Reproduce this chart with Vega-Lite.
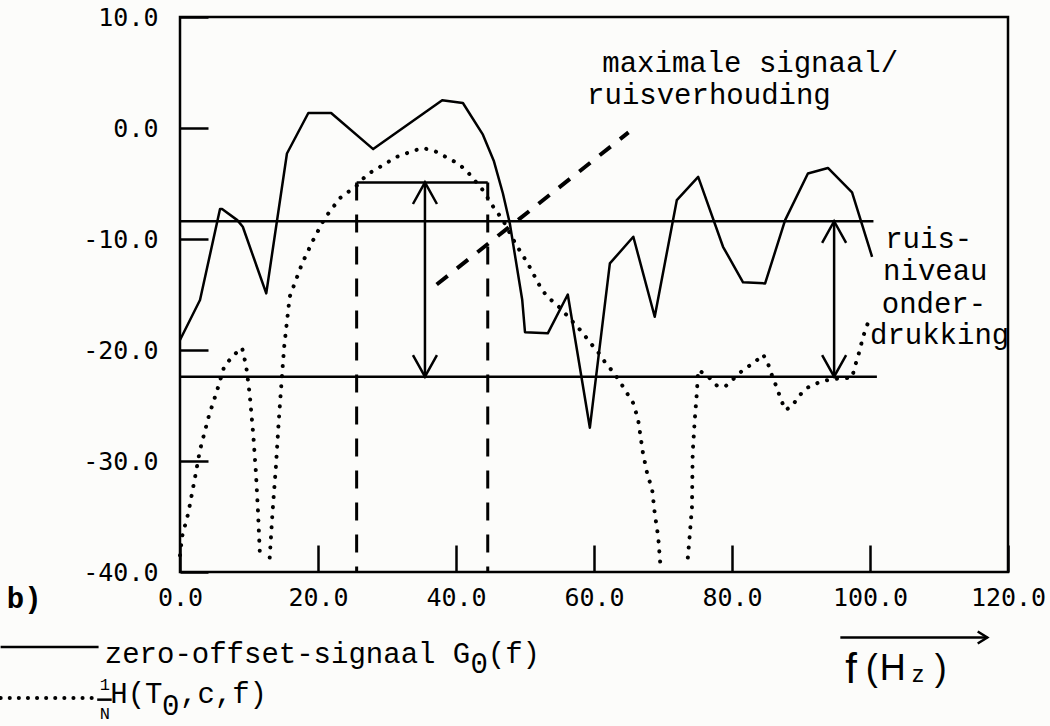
{
  "$schema": "https://vega.github.io/schema/vega-lite/v6.json",
  "width": 828,
  "height": 555,
  "autosize": {"type": "none"},
  "padding": {"left": 180, "top": 17, "right": 42, "bottom": 154},
  "background": "#fcfcfa",
  "config": {
    "view": {"stroke": "black", "strokeWidth": 2.5},
    "text": {"font": "Liberation Mono", "fontSize": 29, "color": "black", "align": "left", "baseline": "alphabetic"}
  },
  "datasets": {
    "G": [
      {"x": 0, "y": -19.1}, {"x": 2.9, "y": -15.5}, {"x": 5.8, "y": -7.3}, {"x": 6.1, "y": -7.3},
      {"x": 8.3, "y": -8.3}, {"x": 9.1, "y": -8.9}, {"x": 12.5, "y": -14.9}, {"x": 15.5, "y": -2.3},
      {"x": 18.6, "y": 1.35}, {"x": 21.9, "y": 1.35}, {"x": 28.0, "y": -1.9}, {"x": 38.0, "y": 2.5},
      {"x": 41.0, "y": 2.25}, {"x": 43.9, "y": -0.6}, {"x": 45.5, "y": -3.0}, {"x": 46.8, "y": -5.9},
      {"x": 47.8, "y": -8.6}, {"x": 49.6, "y": -15.5}, {"x": 50.0, "y": -18.4}, {"x": 53.3, "y": -18.5},
      {"x": 56.2, "y": -15.0}, {"x": 59.4, "y": -27.0}, {"x": 62.3, "y": -12.2}, {"x": 65.7, "y": -9.8},
      {"x": 68.8, "y": -17.0}, {"x": 72.0, "y": -6.5}, {"x": 75.1, "y": -4.4}, {"x": 78.7, "y": -10.7},
      {"x": 81.6, "y": -13.9}, {"x": 84.8, "y": -14.0}, {"x": 87.7, "y": -8.3}, {"x": 91.0, "y": -4.1},
      {"x": 93.9, "y": -3.6}, {"x": 97.4, "y": -5.8}, {"x": 100.3, "y": -11.6}
    ],
    "H": [
      {"seg": 1, "x": 0.0, "y": -38.5}, {"seg": 1, "x": 0.3, "y": -36.8}, {"seg": 1, "x": 1.2, "y": -34.7},
      {"seg": 1, "x": 2.2, "y": -31.4}, {"seg": 1, "x": 2.9, "y": -29.0}, {"seg": 1, "x": 4.2, "y": -25.9},
      {"seg": 1, "x": 5.4, "y": -23.6}, {"seg": 1, "x": 6.4, "y": -21.5}, {"seg": 1, "x": 7.7, "y": -20.5},
      {"seg": 1, "x": 9.0, "y": -19.8}, {"seg": 1, "x": 9.6, "y": -21.5}, {"seg": 1, "x": 10.1, "y": -24.0},
      {"seg": 1, "x": 10.6, "y": -27.5}, {"seg": 1, "x": 11.0, "y": -31.0}, {"seg": 1, "x": 11.3, "y": -34.5},
      {"seg": 1, "x": 11.6, "y": -38.7},
      {"seg": 2, "x": 13.0, "y": -38.7}, {"seg": 2, "x": 13.4, "y": -34.7}, {"seg": 2, "x": 13.9, "y": -30.5},
      {"seg": 2, "x": 14.3, "y": -26.5}, {"seg": 2, "x": 14.7, "y": -23.0}, {"seg": 2, "x": 15.1, "y": -19.7},
      {"seg": 2, "x": 15.9, "y": -15.2}, {"seg": 2, "x": 17.7, "y": -12.2}, {"seg": 2, "x": 19.3, "y": -10.1},
      {"seg": 2, "x": 21.0, "y": -8.1}, {"seg": 2, "x": 23.2, "y": -6.3}, {"seg": 2, "x": 25.6, "y": -5.2},
      {"seg": 2, "x": 27.1, "y": -4.2}, {"seg": 2, "x": 29.0, "y": -3.5}, {"seg": 2, "x": 31.4, "y": -2.6},
      {"seg": 2, "x": 33.6, "y": -2.1}, {"seg": 2, "x": 35.2, "y": -1.8}, {"seg": 2, "x": 37.0, "y": -2.1},
      {"seg": 2, "x": 38.8, "y": -2.7}, {"seg": 2, "x": 40.3, "y": -3.2}, {"seg": 2, "x": 41.6, "y": -3.9},
      {"seg": 2, "x": 43.9, "y": -5.6}, {"seg": 2, "x": 45.4, "y": -7.1}, {"seg": 2, "x": 46.8, "y": -8.3},
      {"seg": 2, "x": 48.6, "y": -10.4}, {"seg": 2, "x": 50.4, "y": -12.2}, {"seg": 2, "x": 52.2, "y": -14.3},
      {"seg": 2, "x": 53.2, "y": -15.2}, {"seg": 2, "x": 54.6, "y": -15.9}, {"seg": 2, "x": 55.8, "y": -16.7},
      {"seg": 2, "x": 58.3, "y": -18.4}, {"seg": 2, "x": 59.4, "y": -19.3}, {"seg": 2, "x": 60.6, "y": -20.2},
      {"seg": 2, "x": 61.6, "y": -21.1}, {"seg": 2, "x": 62.8, "y": -22.0}, {"seg": 2, "x": 63.8, "y": -22.9},
      {"seg": 2, "x": 64.8, "y": -23.9}, {"seg": 2, "x": 65.7, "y": -24.8}, {"seg": 2, "x": 66.4, "y": -26.3},
      {"seg": 2, "x": 67.1, "y": -29.3}, {"seg": 2, "x": 67.8, "y": -31.4}, {"seg": 2, "x": 68.4, "y": -32.4},
      {"seg": 2, "x": 68.8, "y": -34.7}, {"seg": 2, "x": 69.3, "y": -36.8}, {"seg": 2, "x": 69.6, "y": -39.2},
      {"seg": 3, "x": 73.6, "y": -38.7}, {"seg": 3, "x": 73.9, "y": -36.5}, {"seg": 3, "x": 74.2, "y": -34.1},
      {"seg": 3, "x": 74.3, "y": -29.3}, {"seg": 3, "x": 74.6, "y": -26.3}, {"seg": 3, "x": 74.9, "y": -23.9},
      {"seg": 3, "x": 75.1, "y": -21.8}, {"seg": 3, "x": 76.4, "y": -22.3}, {"seg": 3, "x": 77.8, "y": -23.2},
      {"seg": 3, "x": 79.0, "y": -23.3}, {"seg": 3, "x": 81.6, "y": -21.8}, {"seg": 3, "x": 83.3, "y": -21.1},
      {"seg": 3, "x": 84.5, "y": -20.4}, {"seg": 3, "x": 85.2, "y": -21.2}, {"seg": 3, "x": 85.8, "y": -22.3},
      {"seg": 3, "x": 86.5, "y": -23.4}, {"seg": 3, "x": 87.0, "y": -24.3}, {"seg": 3, "x": 87.7, "y": -25.4},
      {"seg": 3, "x": 88.7, "y": -25.1}, {"seg": 3, "x": 89.6, "y": -24.2}, {"seg": 3, "x": 90.9, "y": -23.4},
      {"seg": 3, "x": 93.0, "y": -22.8}, {"seg": 3, "x": 95.0, "y": -22.6}, {"seg": 3, "x": 97.4, "y": -22.5},
      {"seg": 3, "x": 97.8, "y": -21.5}, {"seg": 3, "x": 98.3, "y": -20.5}, {"seg": 3, "x": 98.8, "y": -19.3},
      {"seg": 3, "x": 99.3, "y": -18.2}, {"seg": 3, "x": 100.0, "y": -17.1}
    ],
    "hrules": [
      {"x": 0, "x2": 100.5, "y": -8.4},
      {"x": 0, "x2": 101.0, "y": -22.4},
      {"x": 25.6, "x2": 44.6, "y": -4.9},
      {"x": -26.0, "x2": -11.8, "y": -46.75},
      {"x": -12.0, "x2": -9.9, "y": -51.5},
      {"x": 95.7, "x2": 117.0, "y": -45.9}
    ],
    "vrules": [
      {"x": 35.5, "y": -4.9, "y2": -22.4},
      {"x": 94.8, "y": -8.4, "y2": -22.4}
    ],
    "dashedV": [
      {"x": 25.6, "y": -4.9, "y2": -40},
      {"x": 44.6, "y": -4.9, "y2": -40}
    ],
    "diag": [
      {"x": 37.2, "y": -14.1, "x2": 65.0, "y2": -0.4}
    ],
    "legdot": [
      {"x": -26.0, "x2": -12.4, "y": -51.35}
    ],
    "headUp": [{"x": 35.5, "y": -4.9}, {"x": 94.8, "y": -8.4}],
    "headDown": [{"x": 35.5, "y": -22.4}, {"x": 94.8, "y": -22.4}],
    "headRight": [{"x": 117.0, "y": -45.9}],
    "labels": [
      {"x": 61.2, "y": 5.05, "t": "maximale signaal/"},
      {"x": 59.0, "y": 2.2, "t": "ruisverhouding"},
      {"x": 102.2, "y": -10.8, "t": "ruis-"},
      {"x": 101.9, "y": -13.7, "t": "niveau"},
      {"x": 101.7, "y": -16.7, "t": "onder-"},
      {"x": 100.0, "y": -19.5, "t": "drukking"},
      {"x": -10.9, "y": -48.2, "t": "zero-offset-signaal G"},
      {"x": 42.1, "y": -49.1, "t": "0"},
      {"x": 44.6, "y": -48.2, "t": "(f)"},
      {"x": -10.1, "y": -51.8, "t": "H(T"},
      {"x": -2.6, "y": -52.9, "t": "0"},
      {"x": 0.0, "y": -51.8, "t": ",c,f)"}
    ],
    "frac": [
      {"x": -10.9, "y": -50.6, "t": "1"},
      {"x": -10.9, "y": -53.2, "t": "N"}
    ],
    "bold": [{"x": -25.1, "y": -43.2, "t": "b)"}],
    "hand": [
      {"x": 99.4, "y": -49.7, "t": "("},
      {"x": 101.4, "y": -49.7, "t": "H"},
      {"x": 109.4, "y": -49.7, "t": ")"}
    ],
    "handf": [{"x": 96.4, "y": -50.0, "t": "f"}],
    "handsub": [{"x": 106.1, "y": -49.9, "t": "z"}]
  },
  "encoding": {
    "x": {
      "field": "x", "type": "quantitative",
      "scale": {"domain": [0, 120], "nice": false, "zero": false},
      "axis": {
        "values": [0, 20, 40, 60, 80, 100, 120], "title": null, "domain": false, "grid": false,
        "tickSize": -27, "tickWidth": 2.5, "tickColor": "black",
        "labelFont": "DejaVu Sans Mono", "labelFontSize": 25, "labelColor": "black", "labelPadding": 40,
        "labelFlush": false, "labelOverlap": false,
        "labelExpr": "replace(format(datum.value, '.1f'), '\u2212', '-')",
        "encode": {"labels": {"update": {"dx": {"signal": "-6 - max(0, datum.value - 40) * 0.25"}}}}
      }
    },
    "y": {
      "field": "y", "type": "quantitative",
      "scale": {"domain": [-40, 10], "nice": false, "zero": false},
      "axis": {
        "values": [10, 0, -10, -20, -30, -40], "title": null, "domain": false, "grid": false,
        "tickSize": -28, "tickWidth": 2.5, "tickColor": "black",
        "labelFont": "DejaVu Sans Mono", "labelFontSize": 25, "labelColor": "black", "labelPadding": 50,
        "labelFlush": false, "labelOverlap": false,
        "labelExpr": "replace(format(datum.value, '.1f'), '\u2212', '-')"
      }
    }
  },
  "layer": [
    {"data": {"name": "G"}, "mark": {"type": "line", "color": "black", "strokeWidth": 2.5, "strokeJoin": "round"}},
    {"data": {"name": "H"}, "mark": {"type": "line", "color": "black", "strokeWidth": 4, "strokeCap": "round", "strokeDash": [0.1, 10]},
     "encoding": {"detail": {"field": "seg", "type": "nominal"}}},
    {"data": {"name": "hrules"}, "mark": {"type": "rule", "color": "black", "strokeWidth": 2.5},
     "encoding": {"x2": {"field": "x2"}}},
    {"data": {"name": "vrules"}, "mark": {"type": "rule", "color": "black", "strokeWidth": 2.5},
     "encoding": {"y2": {"field": "y2"}}},
    {"data": {"name": "dashedV"}, "mark": {"type": "rule", "color": "black", "strokeWidth": 3, "strokeDash": [18, 14]},
     "encoding": {"y2": {"field": "y2"}}},
    {"data": {"name": "diag"}, "mark": {"type": "rule", "color": "black", "strokeWidth": 4, "strokeDash": [14, 12]},
     "encoding": {"x2": {"field": "x2"}, "y2": {"field": "y2"}}},
    {"data": {"name": "legdot"}, "mark": {"type": "rule", "color": "black", "strokeWidth": 4, "strokeCap": "round", "strokeDash": [0.1, 9]},
     "encoding": {"x2": {"field": "x2"}}},
    {"data": {"name": "headUp"}, "mark": {"type": "point", "shape": "M-1,1.8L0,0L1,1.8", "size": 576, "filled": false, "color": "black", "strokeWidth": 2.5, "opacity": 1}},
    {"data": {"name": "headDown"}, "mark": {"type": "point", "shape": "M-1,-1.8L0,0L1,-1.8", "size": 576, "filled": false, "color": "black", "strokeWidth": 2.5, "opacity": 1}},
    {"data": {"name": "headRight"}, "mark": {"type": "point", "shape": "M-1.6,-1L0,0L-1.6,1", "size": 144, "filled": false, "color": "black", "strokeWidth": 2.5, "opacity": 1}},
    {"data": {"name": "labels"}, "mark": {"type": "text"}, "encoding": {"text": {"field": "t"}}},
    {"data": {"name": "frac"}, "mark": {"type": "text", "fontSize": 17, "align": "center"}, "encoding": {"text": {"field": "t"}}},
    {"data": {"name": "bold"}, "mark": {"type": "text", "fontSize": 29, "fontWeight": "bold"}, "encoding": {"text": {"field": "t"}}},
    {"data": {"name": "hand"}, "mark": {"type": "text", "font": "Liberation Sans", "fontSize": 36}, "encoding": {"text": {"field": "t"}}},
    {"data": {"name": "handf"}, "mark": {"type": "text", "font": "Liberation Sans", "fontSize": 42}, "encoding": {"text": {"field": "t"}}},
    {"data": {"name": "handsub"}, "mark": {"type": "text", "font": "Liberation Sans", "fontSize": 24}, "encoding": {"text": {"field": "t"}}}
  ]
}
